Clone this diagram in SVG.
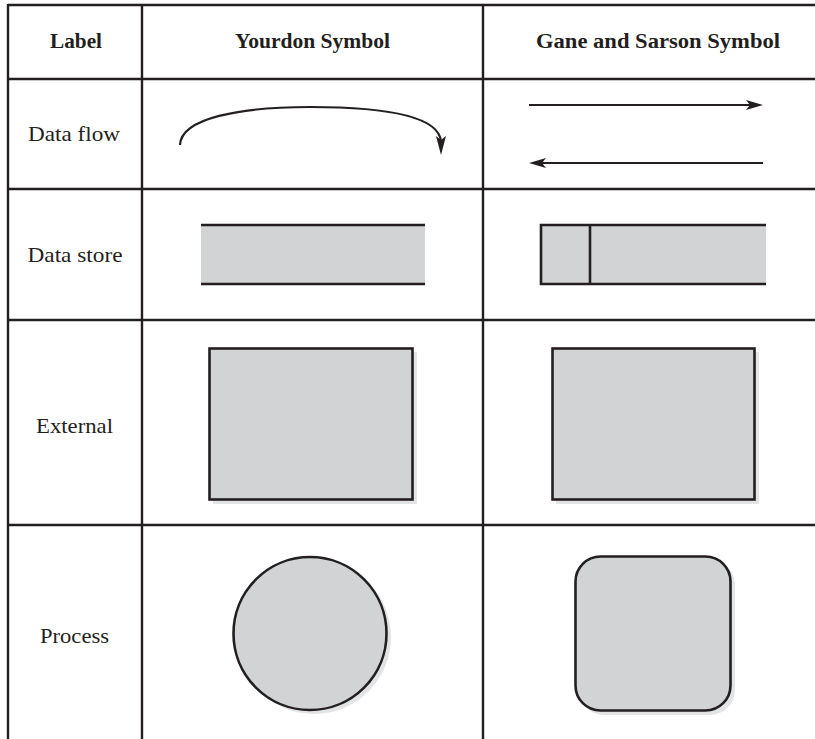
<svg xmlns="http://www.w3.org/2000/svg" width="815" height="739" viewBox="0 0 815 739">
  <style>
    .grid { stroke: #231f20; stroke-width: 2.4; fill: none; }
    .hd { font-family: "Liberation Serif", "Times New Roman", serif; font-weight: bold; font-size: 20px; fill: #231f20; text-anchor: middle; }
    .lb { font-family: "Liberation Serif", "Times New Roman", serif; font-size: 21px; fill: #231f20; text-anchor: middle; }
    .shape { fill: #d1d3d4; stroke: #231f20; stroke-width: 2.6; }
    .fill { fill: #d1d3d4; stroke: none; }
    .edge { stroke: #231f20; stroke-width: 2.6; fill: none; }
    .shadow { fill: #e3e4e5; stroke: none; }
    .flow { stroke: #231f20; stroke-width: 2.2; fill: none; }
    .head { fill: #231f20; stroke: none; }
  </style>

  <rect width="815" height="739" fill="#ffffff"/>

  <!-- table grid -->
  <g id="table">
    <line class="grid" x1="8" y1="5" x2="815" y2="5"/>
    <line class="grid" x1="8" y1="79" x2="815" y2="79"/>
    <line class="grid" x1="8" y1="189" x2="815" y2="189"/>
    <line class="grid" x1="8" y1="320" x2="815" y2="320"/>
    <line class="grid" x1="8" y1="525" x2="815" y2="525"/>
    <line class="grid" x1="8" y1="4" x2="8" y2="739"/>
    <line class="grid" x1="142" y1="4" x2="142" y2="739"/>
    <line class="grid" x1="483" y1="4" x2="483" y2="739"/>
  </g>

  <!-- headers -->
  <g id="headers">
    <text class="hd" x="76" y="48" textLength="52" lengthAdjust="spacingAndGlyphs">Label</text>
    <text class="hd" x="312.5" y="48" textLength="155" lengthAdjust="spacingAndGlyphs">Yourdon Symbol</text>
    <text class="hd" x="658" y="48" textLength="244" lengthAdjust="spacingAndGlyphs">Gane and Sarson Symbol</text>
  </g>

  <!-- row labels -->
  <g id="labels">
    <text class="lb" x="74" y="141" textLength="92" lengthAdjust="spacingAndGlyphs">Data flow</text>
    <text class="lb" x="75" y="262" textLength="95" lengthAdjust="spacingAndGlyphs">Data store</text>
    <text class="lb" x="74.5" y="433" textLength="77" lengthAdjust="spacingAndGlyphs">External</text>
    <text class="lb" x="74.5" y="643" textLength="69" lengthAdjust="spacingAndGlyphs">Process</text>
  </g>

  <!-- data flow symbols -->
  <g id="flows">
    <path class="flow" d="M180,145 C181,118 240,107 310,107 C385,107 438,116 441,141"/>
    <polygon class="head" points="441,155 436,136 441,140 446,136"/>
    <line class="flow" x1="529" y1="105" x2="751" y2="105"/>
    <polygon class="head" points="763,105 746,100 750,105 746,110"/>
    <line class="flow" x1="541" y1="163" x2="763" y2="163"/>
    <polygon class="head" points="529,163 546,158 542,163 546,168"/>
  </g>

  <!-- data store, Yourdon: open-ended band -->
  <g id="store-yourdon">
    <rect class="fill" x="201" y="225" width="224" height="59"/>
    <line class="edge" x1="201" y1="225" x2="425" y2="225"/>
    <line class="edge" x1="201" y1="284" x2="425" y2="284"/>
  </g>

  <!-- data store, Gane and Sarson: open right side with ID compartment -->
  <g id="store-gane">
    <rect class="fill" x="541" y="225" width="225" height="59"/>
    <path class="edge" d="M766,225 H541 V284 H766"/>
    <line class="edge" x1="590" y1="225" x2="590" y2="284"/>
  </g>

  <!-- external entities -->
  <g id="external-yourdon">
    <rect class="shadow" x="213" y="352" width="204" height="152"/>
    <rect class="shape" x="209.5" y="348.5" width="203" height="151"/>
  </g>
  <g id="external-gane">
    <rect class="shadow" x="556" y="352" width="203" height="152"/>
    <rect class="shape" x="552.5" y="348.5" width="202" height="151"/>
  </g>

  <!-- processes -->
  <g id="process-yourdon">
    <circle class="shadow" cx="314" cy="637" r="77"/>
    <circle class="shape" cx="310" cy="633.5" r="76.5"/>
  </g>
  <g id="process-gane">
    <rect class="shadow" x="579" y="560" width="156" height="155" rx="25"/>
    <rect class="shape" x="575.5" y="556.5" width="155" height="154" rx="25"/>
  </g>
</svg>
